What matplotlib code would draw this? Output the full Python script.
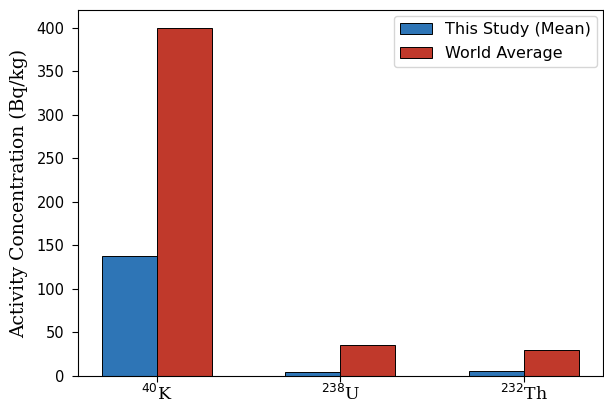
import matplotlib.pyplot as plt
import numpy as np

categories = [r"$^{40}$K", r"$^{238}$U", r"$^{232}$Th"]
study_mean = [138, 4, 5]
world_avg = [400, 35, 30]

fig, ax = plt.subplots(figsize=(6.04, 4.05), dpi=100)
fig.subplots_adjust(left=0.129, right=0.998, top=0.975, bottom=0.072)

x = np.arange(len(categories))
w = 0.3
ax.bar(x - w / 2, study_mean, w, color="#2E75B6", edgecolor="black", linewidth=0.7,
       label="This Study (Mean)")
ax.bar(x + w / 2, world_avg, w, color="#C0392B", edgecolor="black", linewidth=0.7,
       label="World Average")

ax.set_xticks(x)
ax.set_xticklabels(categories, fontfamily="DejaVu Serif", fontsize=12.5)
ax.set_ylabel("Activity Concentration (Bq/kg)", fontfamily="DejaVu Serif", fontsize=13.5,
              labelpad=6)
ax.tick_params(axis="both", length=4.5, pad=5)
ax.tick_params(axis="x", pad=1.5)
ax.tick_params(axis="y", labelsize=10.5)
ax.legend(fontsize=11.5, loc="upper right", borderaxespad=0.35, labelspacing=0.55)

fig.savefig("out.png")
